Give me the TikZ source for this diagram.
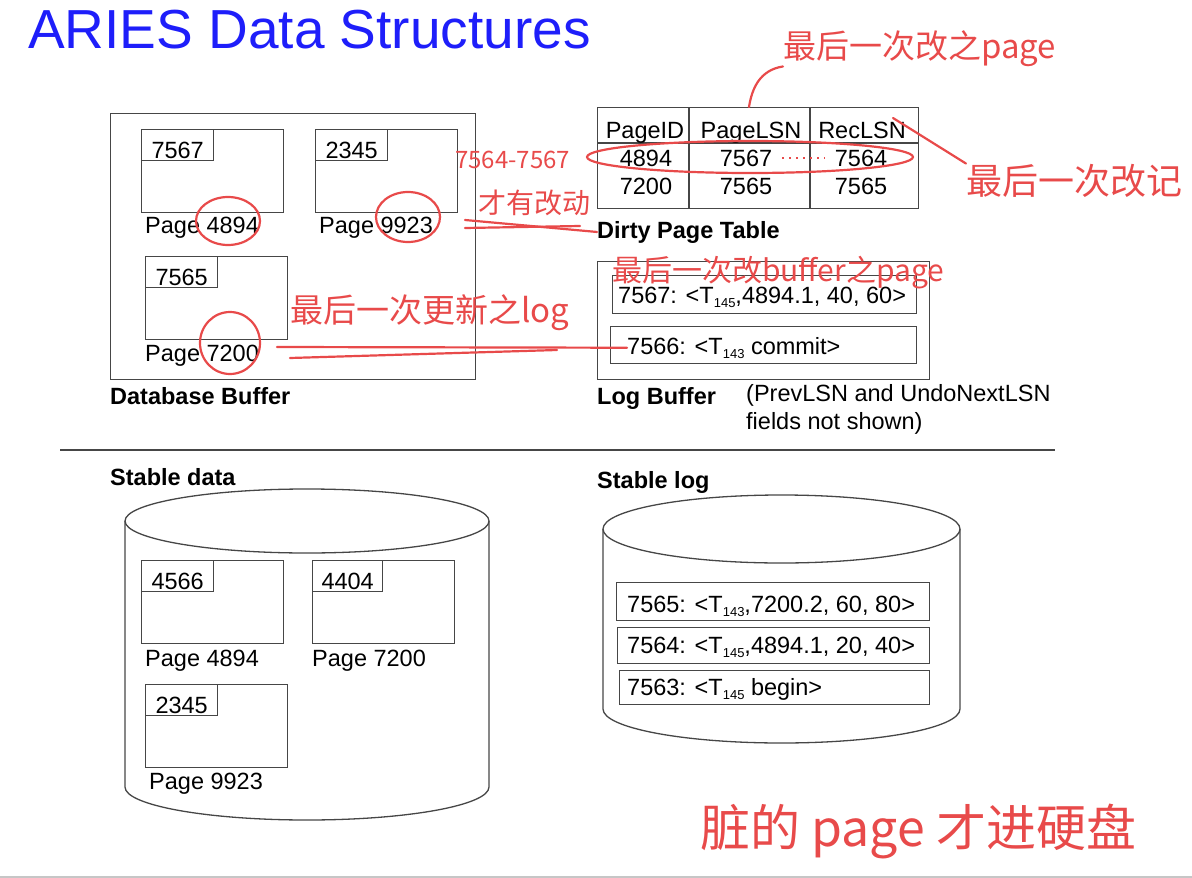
\documentclass[tikz,border=0pt]{standalone}
\usepackage{fontspec}
\setmainfont{Liberation Sans}
\newfontfamily\cjk{Noto Sans CJK SC}
\usetikzlibrary{calc}
\definecolor{titleblue}{RGB}{30,30,250}
\definecolor{inkred}{RGB}{232,74,74}
\definecolor{boxgray}{RGB}{70,70,70}
\newcommand{\tsub}[1]{\raisebox{-0.35ex}{\fontsize{13}{13}\selectfont #1}}

\begin{document}
\begin{tikzpicture}[x=1pt,y=-1pt]
    \tikzstyle{txt}=[inner sep=0, anchor=base west, font=\fontsize{23.5}{28}\selectfont]
    \tikzstyle{head}=[txt, font=\fontsize{23.5}{28}\selectfont\bfseries]
    \tikzstyle{frame}=[draw=boxgray, line width=1.3pt, inner sep=0, anchor=north west]
    \tikzstyle{pagebox}=[frame, minimum width=142, minimum height=83]
    \tikzstyle{lsnbox}=[frame, minimum width=72, minimum height=31, text height=27,
        text depth=0, font=\fontsize{23.5}{28}\selectfont]
    \tikzstyle{grid}=[boxgray, line width=1.3pt]
    \tikzstyle{ink}=[draw=inkred, line width=2.2pt, line cap=round]
    \tikzstyle{hand}=[text=inkred, inner sep=0, anchor=base west]
    \useasboundingbox (0,0) rectangle (1192,878);
    \draw[gray!45, line width=1.5pt] (0,877) -- (1192,877);
    % Title
    \node[txt, font=\fontsize{55}{60}\selectfont, text=titleblue] (title) at (28,48) {ARIES Data Structures};
    % Database buffer
    \node[frame, minimum width=365, minimum height=266] (dbbuf) at (110,113) {};
    \node[head] (dbbuftitle) at (110,404) {Database Buffer};
    \node[pagebox] (b4894) at (141,129) {};
    \node[lsnbox] (b4894lsn) at (b4894.north west) {7567};
    \node[txt] (b4894name) at (145,233) {Page 4894};
    \node[pagebox] (b9923) at (315,129) {};
    \node[lsnbox] (b9923lsn) at (b9923.north west) {2345};
    \node[txt] (b9923name) at (319,233) {Page 9923};
    \node[pagebox] (b7200) at (145,256) {};
    \node[lsnbox] (b7200lsn) at (b7200.north west) {7565};
    \node[txt] (b7200name) at (145,361) {Page 7200};
    % Dirty page table
    \node[frame, minimum width=321, minimum height=101] (dpt) at (597,107) {};
    \draw[grid] (689,107) -- (689,208);
    \draw[grid] (810,107) -- (810,208);
    \draw[grid] (597,143) -- (918,143);
    \node[txt, anchor=base] (hpage) at (645,138) {PageID};
    \node[txt, anchor=base] (hplsn) at (751,138) {PageLSN};
    \node[txt, anchor=base] (hrec) at (862,138) {RecLSN};
    \node[txt, anchor=base] (r1page) at (646,166) {4894};
    \node[txt, anchor=base] (r1plsn) at (746,166) {7567};
    \node[txt, anchor=base] (r1rec) at (861,166) {7564};
    \node[txt, anchor=base] (r2page) at (646,194) {7200};
    \node[txt, anchor=base] (r2plsn) at (746,194) {7565};
    \node[txt, anchor=base] (r2rec) at (861,194) {7565};
    \node[head] (dpttitle) at (597,238) {Dirty Page Table};
    % Log buffer
    \node[frame, minimum width=332, minimum height=118] (logbuf) at (597,261) {};
    \node[frame, minimum width=304, minimum height=38] (lb7567) at (612,275) {};
    \node[txt] (lb7567txt) at (618,303) {7567: <T\tsub{145},4894.1, 40, 60>};
    \node[frame, minimum width=306, minimum height=37] (lb7566) at (610,326) {};
    \node[txt] (lb7566txt) at (627,354) {7566: <T\tsub{143} commit>};
    \node[head] (logbuftitle) at (597,404) {Log Buffer};
    \node[txt] (note1) at (746,401) {(PrevLSN and UndoNextLSN};
    \node[txt] (note2) at (746,429) {fields not shown)};
    % Separator
    \draw[grid] (60,450) -- (1055,450);
    % Stable data
    \node[head] (sdtitle) at (110,485) {Stable data};
    \draw[grid] (307,521) ellipse[x radius=182, y radius=32];
    \draw[grid] (125,521) -- (125,787) arc[start angle=180, end angle=0, x radius=182, y radius=33] -- (489,521);
    \node[pagebox] (s4894) at (141,560) {};
    \node[lsnbox] (s4894lsn) at (s4894.north west) {4566};
    \node[txt] (s4894name) at (145,666) {Page 4894};
    \node[pagebox] (s7200) at (312,560) {};
    \node[lsnbox, minimum width=70] (s7200lsn) at (s7200.north west) {4404};
    \node[txt] (s7200name) at (312,666) {Page 7200};
    \node[pagebox] (s9923) at (145,684) {};
    \node[lsnbox] (s9923lsn) at (s9923.north west) {2345};
    \node[txt] (s9923name) at (149,789) {Page 9923};
    % Stable log
    \node[head] (sltitle) at (597,488) {Stable log};
    \draw[grid] (781.5,529) ellipse[x radius=178.5, y radius=34];
    \draw[grid] (603,529) -- (603,709) arc[start angle=180, end angle=0, x radius=178.5, y radius=34] -- (960,529);
    \node[frame, minimum width=313, minimum height=38] (sl7565) at (616,582) {};
    \node[txt] (sl7565txt) at (627,612) {7565: <T\tsub{143},7200.2, 60, 80>};
    \node[frame, minimum width=312, minimum height=36] (sl7564) at (617,627) {};
    \node[txt] (sl7564txt) at (627,653) {7564: <T\tsub{145},4894.1, 20, 40>};
    \node[frame, minimum width=310, minimum height=34] (sl7563) at (619,670) {};
    \node[txt] (sl7563txt) at (627,695) {7563: <T\tsub{145} begin>};
    % Handwritten notes
    \node[hand, font=\cjk\fontsize{33}{36}\selectfont] (n1) at (783,58) {最后一次改之page};
    \node[hand, font=\cjk\fontsize{36}{38}\selectfont] (n2) at (966,194) {最后一次改记};
    \node[hand, font=\cjk\fontsize{24}{26}\selectfont] (n3) at (455,168) {7564-7567};
    \node[hand, font=\cjk\fontsize{28}{30}\selectfont] (n4) at (478,213) {才有改动};
    \node[hand, font=\cjk\fontsize{30}{32}\selectfont] (n5) at (612,281) {最后一次改buffer之page};
    \node[hand, font=\cjk\fontsize{33}{36}\selectfont] (n6) at (290,322) {最后一次更新之log};
    \node[hand, font=\cjk\fontsize{50}{54}\selectfont] (n7) at (700,846) {脏的 page 才进硬盘};
    \coordinate (k1) at (749,107);
    \coordinate (k2) at (893,118);
    \coordinate (k3) at (465,220);
    \coordinate (k4) at (277,347);
    \draw[ink] (k1) .. controls (752,88) and (760,70) .. (n1.south west);
    \draw[ink] (k2) -- (n2.north west);
    \draw[ink] (k3) -- (dpttitle.west);
    \draw[ink] (465,228) -- (580,226);
    \draw[ink] (k4) -- (lb7566txt.west);
    \draw[ink] (290,358) -- (557,350);
    \draw[ink] (750,157) ellipse[x radius=163, y radius=16];
    \draw[inkred, line width=2pt, dash pattern=on 2pt off 5pt, shorten >=10pt, shorten <=10pt] (r1plsn.east) -- (r1rec.west);
    \draw[ink] (228,221) ellipse[x radius=32, y radius=24];
    \draw[ink] (408,217) ellipse[x radius=32, y radius=25];
    \draw[ink] (230,343) ellipse[x radius=30, y radius=31];
\end{tikzpicture}
\end{document}
